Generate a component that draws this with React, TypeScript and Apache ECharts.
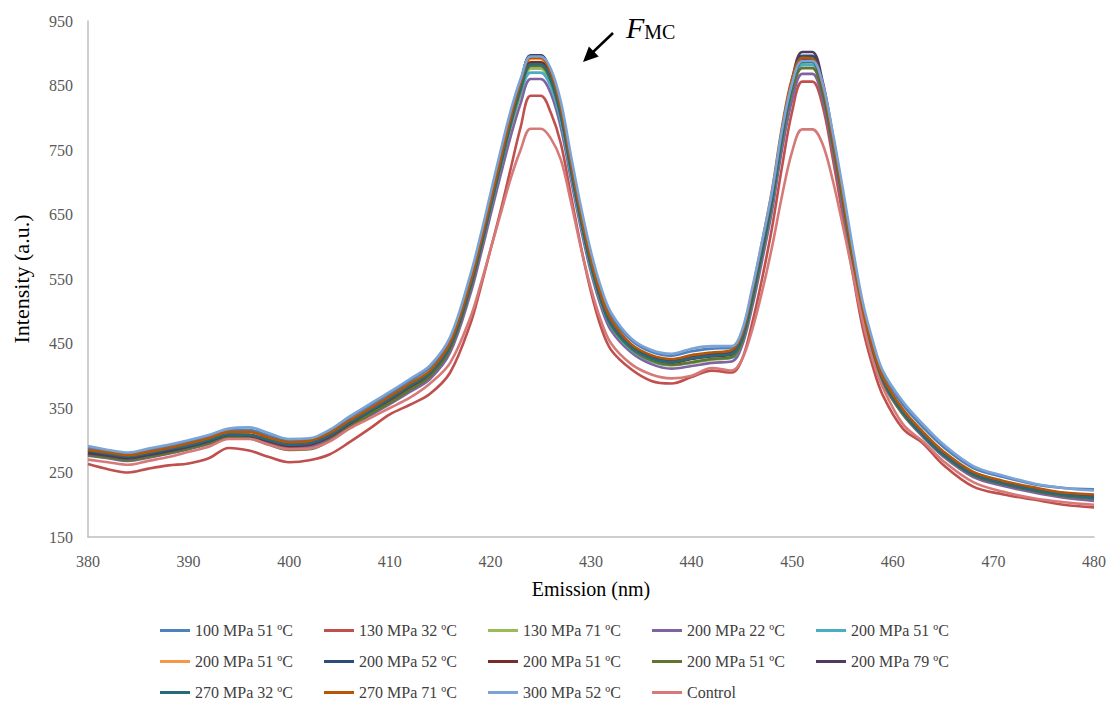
import React, { useEffect, useRef } from "react";
import * as echarts from "echarts";

const wavelengths = [380,382,384,386,388,390,392,394,396,398,400,402,404,406,408,410,412,414,416,418,419,420,421,422,423,424,425,426,427,428,429,430,431,432,434,436,438,440,442,444,445,446,447,448,449,450,451,452,453,454,455,456,457,458,459,461,463,465,468,471,474,477,480];

const seriesNames = [
  "100 MPa 51 ºC","130 MPa 32 ºC","130 MPa 71 ºC","200 MPa 22 ºC","200 MPa 51 ºC",
  "200 MPa 51 ºC","200 MPa 52 ºC","200 MPa 51 ºC","200 MPa 51 ºC","200 MPa 79 ºC",
  "270 MPa 32 ºC","270 MPa 71 ºC","300 MPa 52 ºC","Control"
];

const seriesColors = ["#4F81BD","#C0504D","#9BBB59","#8064A2","#4BACC6","#F79646","#2C4D75","#772C2A","#5F7530","#4D3B62","#276A7C","#B65708","#7BA3D5","#D57A78"];

const s100_51 = [288,283,279,285,291,298,306,316,316,307,299,301,314,335,353,372,392,413,456,550,610,675,740,803,856,895,895,872,818,735,655,585,530,492,455,437,431,438,442,444,466,528,600,678,774,848,884,886,848,772,685,592,508,450,404,355,320,290,257,243,232,226,224];
const s130_32 = [263,255,250,256,261,264,272,288,284,274,266,269,278,297,318,340,355,372,405,480,535,595,655,720,785,834,834,808,760,680,600,530,475,440,410,392,388,398,408,405,425,480,550,630,725,810,856,856,820,740,650,560,475,415,370,318,295,262,228,216,208,200,196];
const s130_71 = [278,274,270,275,281,288,296,305,305,297,290,291,303,322,340,358,378,398,440,532,592,656,720,783,835,876,876,852,797,715,637,568,514,476,440,422,416,420,425,428,452,512,587,666,765,842,882,882,842,762,672,578,494,435,390,340,306,276,245,231,221,213,209];
const s200_22 = [276,272,268,273,279,286,294,304,304,296,289,290,301,320,338,356,375,395,436,526,585,648,710,770,822,860,860,838,785,705,628,560,507,470,436,418,411,415,420,422,446,505,578,656,752,828,868,868,830,752,664,572,490,432,388,340,305,275,243,229,219,211,206];
const s200_51a = [280,276,272,277,283,290,298,308,307,299,292,294,306,325,343,362,381,401,444,536,595,658,722,785,838,870,870,848,795,713,635,566,513,476,440,423,417,421,426,428,452,513,588,667,766,844,882,882,842,763,674,580,496,437,392,342,307,277,246,232,222,214,210];
const s200_51b = [283,279,275,280,286,293,301,311,311,302,295,297,309,329,347,366,386,406,450,542,602,667,732,797,852,891,891,867,812,728,648,578,523,485,447,430,424,430,434,437,460,523,598,678,778,855,894,894,852,772,682,588,503,442,397,347,312,282,250,236,226,218,214];
const s200_52 = [281,277,273,278,284,291,299,309,308,300,293,295,307,327,345,364,384,404,447,540,600,666,732,798,854,897,897,870,812,727,646,576,521,483,446,429,423,429,433,436,459,521,597,678,778,856,896,896,852,771,681,586,501,441,396,346,311,281,249,235,225,217,213];
const s200_51c = [279,275,271,276,282,289,297,307,306,298,291,293,305,325,343,362,382,402,445,537,597,662,727,791,846,886,886,862,806,722,642,572,517,479,443,426,420,426,430,433,456,518,593,673,772,849,889,889,848,768,678,583,498,438,393,343,308,278,246,232,222,214,210];
const s200_51d = [277,273,269,274,280,287,295,305,303,293,285,286,299,320,340,358,378,399,442,535,595,660,724,788,842,880,880,857,802,719,640,570,516,478,442,424,417,421,426,429,452,513,588,668,766,842,877,877,838,760,672,578,494,435,390,341,307,277,246,232,222,214,210];
const s200_79 = [280,276,272,277,283,290,298,308,308,300,293,295,307,327,345,364,384,404,447,540,600,665,731,797,853,896,896,869,811,726,646,576,521,483,446,430,424,430,434,437,460,522,598,680,781,860,902,902,858,776,684,588,502,441,396,346,311,281,249,235,225,217,213];
const s270_32 = [284,279,275,280,286,292,300,309,308,300,293,295,307,327,345,364,384,404,447,539,598,663,728,792,846,883,883,859,804,720,641,572,518,480,444,427,421,427,431,434,457,519,594,674,773,850,887,887,846,766,677,583,498,438,393,343,308,278,247,233,223,215,211];
const s270_71 = [285,281,277,282,288,295,303,313,313,304,297,299,311,331,349,368,388,408,452,545,605,670,735,800,855,893,893,870,815,731,650,580,525,487,449,432,426,432,436,440,465,530,607,688,787,862,893,892,850,770,680,587,503,443,398,348,313,283,251,237,227,219,216];
const s300_52 = [291,285,281,287,293,300,308,318,320,311,302,303,316,337,356,375,395,416,460,556,616,682,748,810,860,895,895,876,825,742,662,592,537,498,458,440,434,442,446,446,470,534,608,686,782,854,888,888,855,780,693,600,515,455,408,360,325,294,260,245,233,226,222];
const sControl = [270,266,262,268,274,282,290,302,302,293,286,287,298,318,334,350,366,388,420,490,540,595,650,705,750,783,783,768,735,670,598,535,485,450,418,402,396,400,412,408,425,470,530,600,680,748,782,782,760,705,635,560,485,425,382,325,298,268,235,220,210,204,200];

const seriesValues = [s100_51,s130_32,s130_71,s200_22,s200_51a,s200_51b,s200_52,s200_51c,s200_51d,s200_79,s270_32,s270_71,s300_52,sControl];

const yTicks = { min: 150, max: 950, step: 100 };
const xTicks = { min: 380, max: 480, step: 10 };

const SERIF = "Liberation Serif, Times New Roman, serif";

export default function App() {
  const ref = useRef<HTMLDivElement>(null);
  useEffect(() => {
    if (!ref.current) return;
    const chart = echarts.init(ref.current, null, { renderer: "svg" });
    const ids = seriesNames.map((n, i) => n + "#" + i);
    const series = seriesNames.map((name, i) => ({
      name: ids[i],
      type: "line",
      data: wavelengths.map((x, j) => [x, seriesValues[i][j]]),
      symbol: "none",
      smooth: 0.35,
      lineStyle: { width: 2.6, color: seriesColors[i] },
      itemStyle: { color: seriesColors[i] },
    }));
    chart.setOption({
      animation: false,
      backgroundColor: "#ffffff",
      textStyle: { fontFamily: SERIF },
      grid: { left: 88, right: 17, top: 21, bottom: 167 },
      xAxis: {
        type: "value",
        min: xTicks.min,
        max: xTicks.max,
        interval: xTicks.step,
        name: "Emission (nm)",
        nameLocation: "middle",
        nameGap: 42,
        nameTextStyle: { fontFamily: SERIF, fontSize: 20, color: "#000000" },
        axisLine: { lineStyle: { color: "#BFBFBF", width: 1.5 } },
        axisTick: { show: false },
        splitLine: { show: false },
        axisLabel: { fontFamily: SERIF, fontSize: 16, color: "#595959", margin: 16 },
      },
      yAxis: {
        type: "value",
        min: yTicks.min,
        max: yTicks.max,
        interval: yTicks.step,
        name: "Intensity (a.u.)",
        nameLocation: "middle",
        nameGap: 56,
        nameTextStyle: { fontFamily: SERIF, fontSize: 22, color: "#000000" },
        axisLine: { show: true, lineStyle: { color: "#BFBFBF", width: 1.5 } },
        axisTick: { show: false },
        splitLine: { show: false },
        axisLabel: { fontFamily: SERIF, fontSize: 16, color: "#595959", margin: 15 },
      },
      legend: {
        left: 155,
        top: 614,
        width: 840,
        icon: "rect",
        itemWidth: 30,
        itemHeight: 3,
        itemGap: 8,
        formatter: (n: string) => n.split("#")[0],
        textStyle: { fontFamily: SERIF, fontSize: 16, color: "#404040", width: 121, lineHeight: 23 },
        data: ids.map((n) => ({ name: n })),
      },
      graphic: [
        { type: "line", shape: { x1: 613, y1: 33, x2: 592, y2: 53 }, style: { stroke: "#000", lineWidth: 2.5 } },
        { type: "polygon", shape: { points: [[583, 62], [598.7, 56.6], [588.9, 46.6]] }, style: { fill: "#000" } },
        {
          type: "text",
          x: 626,
          y: 12,
          style: {
            text: "{f|F}{m|MC}",
            fontFamily: SERIF,
            rich: {
              f: { fontFamily: SERIF, fontSize: 30, fontStyle: "italic", fill: "#000", verticalAlign: "bottom" },
              m: { fontFamily: SERIF, fontSize: 20, fill: "#000", verticalAlign: "bottom" },
            },
          },
        },
      ],
      series,
    });
    return () => chart.dispose();
  }, []);
  return <div ref={ref} style={{ position: "absolute", left: 0, top: 0, width: 1111, height: 704 }} />;
}
